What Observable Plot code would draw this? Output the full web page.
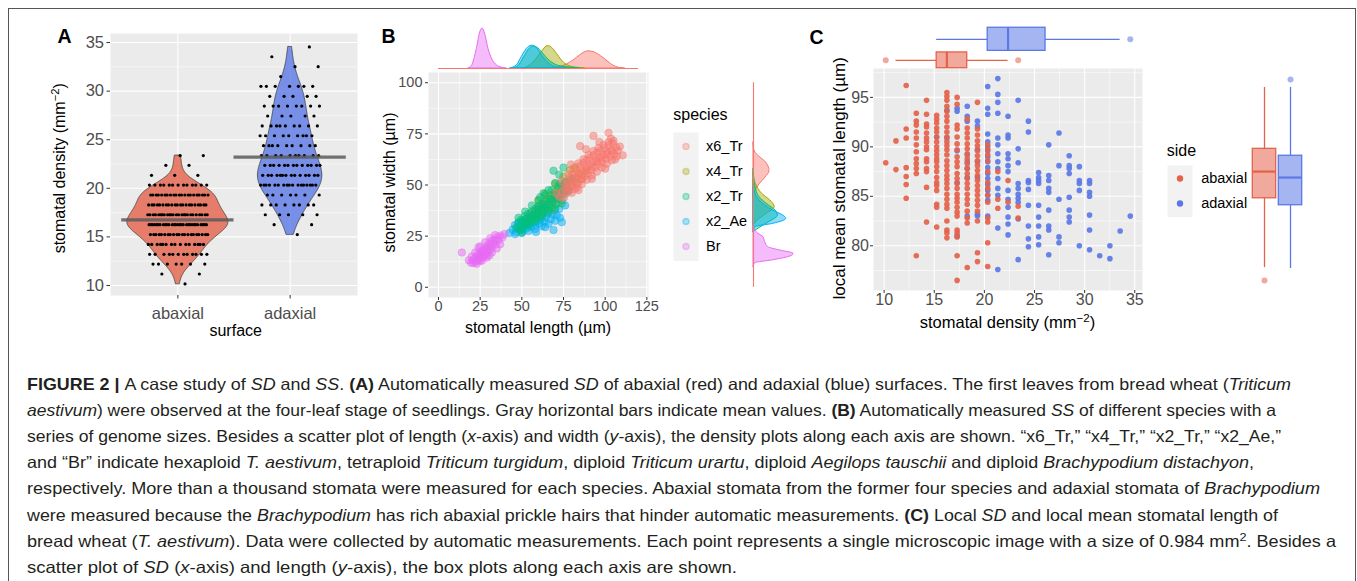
<!DOCTYPE html>
<html>
<head>
<meta charset="utf-8">
<title>Figure 2 – stomatal density and size</title>
<script src="https://cdn.jsdelivr.net/npm/d3@7"></script>
<script src="https://cdn.jsdelivr.net/npm/@observablehq/plot@0.6"></script>
<style>
  html, body { margin: 0; padding: 0; background: #ffffff; }
  #fig { position: relative; width: 1357px; height: 581px; overflow: hidden; background: #ffffff; }
</style>
</head>
<body>
<div id="fig"></div>
<script>
// ======================= DATA =======================
// Panels A and C: stomatal density levels (mm^-2) per microscopic image
const sdLevels = [10.16, 11.18, 12.2, 13.21, 14.23, 15.24, 16.26, 17.28, 18.29, 19.31, 20.33, 21.34, 22.36, 23.37, 24.39, 25.41, 26.42, 27.44, 28.46, 29.47, 30.49, 31.5, 32.52, 33.54, 34.55];
const surfaces = ["abaxial", "adaxial"];
const surfaceColors = ["#E4624A", "#5B78E6"];
const surfaceMeans = [16.75, 23.2];

// local mean stomatal length (µm) of each image, grouped by density level (index into sdLevels)
const abaxialLength = [
  [88.4],
  [90.6, 87.7],
  [96.2, 91.8, 90.9, 87.9, 87.0, 86.2, 84.8],
  [93.4, 92.6, 92.2, 91.5, 90.9, 90.2, 89.5, 88.8, 88.3, 87.8, 87.3, 79.0],
  [94.7, 93.3, 92.3, 92.0, 91.4, 90.9, 90.5, 90.0, 89.7, 88.8, 88.5, 87.8, 87.5, 85.9, 82.4],
  [93.2, 92.8, 92.4, 91.9, 91.5, 91.0, 90.5, 90.0, 89.6, 89.2, 88.8, 88.5, 88.0, 87.5, 86.9, 86.4, 86.1, 85.6, 84.2, 83.9, 81.9],
  [95.5, 95.1, 94.7, 94.1, 93.6, 93.1, 92.6, 92.0, 91.5, 91.0, 90.5, 90.1, 89.7, 89.2, 88.6, 88.1, 87.6, 87.1, 86.7, 86.3, 85.8, 85.2, 84.7, 84.2, 83.8, 82.5, 81.6, 81.3, 80.8],
  [95.0, 94.3, 92.2, 91.8, 91.0, 90.3, 89.7, 89.0, 88.5, 88.0, 87.3, 86.8, 86.3, 85.8, 85.2, 84.8, 84.4, 83.9, 83.4, 83.0, 81.6, 81.3, 80.9, 79.0, 76.5],
  [92.8, 91.9, 91.4, 90.9, 90.3, 89.8, 89.3, 88.8, 88.3, 87.8, 87.3, 86.8, 86.3, 85.8, 85.2, 84.7, 84.2, 83.5, 82.8, 82.3, 77.8],
  [94.5, 91.8, 91.2, 90.6, 90.1, 89.6, 89.1, 88.6, 88.1, 87.6, 87.1, 86.6, 86.1, 85.6, 85.1, 84.6, 84.1, 83.5, 82.5, 79.3, 78.4],
  [90.2, 89.7, 89.2, 88.6, 87.5, 86.4, 85.8, 85.1, 84.4, 82.8, 82.4, 80.3, 77.9],
  [87.5, 84.7, 83.8],
  [86.6, 84.4],
  [84.0, 82.8]
];
const adaxialLength = [
  [], [], [], [], [],
  [91.0],
  [93.7, 90.9],
  [93.9, 93.6, 89.6, 86.4, 81.0],
  [94.1, 93.1, 92.6, 89.2, 88.5, 87.8, 86.9, 83.0],
  [92.6, 92.1, 89.7, 88.5, 86.9, 83.2, 83.0],
  [96.1, 93.9, 93.3, 91.3, 90.5, 90.0, 89.6, 89.0, 88.5, 87.9, 87.3, 86.8, 86.2, 85.6, 85.1, 84.6, 83.0],
  [96.9, 95.3, 94.5, 93.4, 90.9, 90.2, 89.3, 88.5, 87.8, 86.8, 85.8, 85.1, 81.8, 77.6],
  [93.1, 91.2, 90.9, 89.3, 88.8, 88.1, 87.5, 85.6, 84.7, 83.9, 82.9, 82.2, 81.1],
  [94.7, 89.8, 88.4, 86.3, 85.8, 85.2, 84.8, 84.4, 82.7, 78.6],
  [92.6, 91.5, 86.6, 86.4, 85.7, 84.1, 82.0, 80.7, 79.9],
  [87.4, 86.9, 86.6, 86.3, 84.1, 82.9, 82.0, 80.9, 80.1],
  [90.2, 87.1, 86.6, 85.8, 85.4, 83.6, 82.0, 81.6, 79.1],
  [91.4, 88.1, 84.7, 80.9, 80.3],
  [89.1, 88.1, 87.8, 87.3, 84.9, 83.6, 82.9, 82.4],
  [88.0, 86.6, 86.3, 85.6, 80.0],
  [86.6, 86.3, 85.4, 85.0, 83.1, 81.6, 79.6],
  [79.0],
  [80.0, 78.7],
  [81.5],
  [83.0]
];

// Panel C marginal box plots: [lower whisker, Q1, median, Q3, upper whisker]
const boxSD_abaxial = [11.18, 15.24, 16.26, 18.29, 22.36];
const boxSD_adaxial = [15.24, 20.33, 22.36, 26.1, 33.54];
const outSD_abaxial = [10.16, 23.37];
const outSD_adaxial = [34.55];
const boxLen_abaxial = [77.8, 84.8, 87.5, 89.8, 96.0];
const boxLen_adaxial = [77.7, 84.1, 86.9, 89.1, 96.0];
const outLen_abaxial = [76.5];
const outLen_adaxial = [96.8];

// Panel B: species and their colours
const species = ["x6_Tr", "x4_Tr", "x2_Tr", "x2_Ae", "Br"];
const speciesColors = ["#F8766D", "#A3A500", "#00BF7D", "#00B0F6", "#E76BF3"];

// Panel B: stomatal [length, width] (µm)
const pts_x6_Tr = [[72.5,44.0],[74.0,46.8],[75.2,43.6],[75.8,49.0],[76.6,45.9],[77.4,51.2],[78.1,47.3],[78.9,53.4],[79.5,49.6],[80.3,55.1],[80.9,51.3],[81.6,47.9],[82.4,53.8],[83.0,57.2],[83.7,50.6],[84.3,55.4],[85.0,59.3],[85.6,52.7],[86.3,57.0],[87.0,60.8],[87.6,54.3],[88.3,58.6],[89.0,62.2],[89.6,55.7],[90.3,59.9],[91.0,63.4],[91.7,57.2],[92.4,61.0],[93.1,64.6],[93.8,58.6],[94.5,62.4],[95.2,65.9],[95.9,60.1],[96.6,63.5],[97.3,66.8],[98.0,61.3],[98.8,64.7],[99.6,68.0],[100.4,62.6],[101.2,65.9],[102.0,69.2],[102.8,63.8],[103.7,67.1],[104.6,70.3],[105.5,65.2],[106.5,68.4],[107.6,66.9],[108.8,68.8],[102.0,75.5],[103.5,72.6],[93.0,74.0],[85.0,69.0],[88.5,67.5],[96.5,71.0],[79.5,60.0],[110.5,64.5],[74.0,52.0],[71.0,45.8],[100.0,58.0],[92.0,53.0],[84.0,47.5],[106.0,62.5],
  [80.0,46.2],[83.0,48.6],[86.0,50.4],[89.0,52.6],[92.0,54.6],[95.0,56.5],[98.0,58.6],[101.0,60.4],[104.0,62.1],[107.0,64.0],
  [78.0,55.2],[81.0,58.0],[84.0,60.6],[87.0,62.6],[90.0,64.6],[93.0,66.6],[96.0,68.1],[99.0,69.6],[102.0,71.0],[105.0,71.6],
  [77.0,49.0],[80.0,51.2],[83.0,53.1],[86.0,55.0],[89.0,57.4],[92.0,59.1],[95.0,61.4],[98.0,63.1],[101.0,65.0],[104.0,66.6]];
const pts_x4_Tr = [[53.5,33.8],[55.2,36.0],[56.5,33.2],[57.8,37.4],[58.9,34.7],[60.0,39.0],[61.0,36.2],[62.0,40.5],[62.9,37.6],[63.8,42.0],[64.6,39.1],[65.4,43.4],[66.2,40.3],[67.0,44.5],[67.8,41.5],[68.6,45.6],[69.4,42.7],[70.3,46.9],[71.2,44.0],[72.1,48.1],[73.1,45.2],[74.1,49.4],[75.2,46.6],[76.3,50.8],[77.5,48.0],[78.8,52.2],[80.1,49.5],[81.5,53.7],[83.0,51.1],[84.6,55.3],[86.2,52.9],[88.0,56.6],[64.0,45.8],[70.0,50.6],[75.0,54.1],[79.0,57.2],[68.0,38.2],[72.0,41.2],[60.0,42.6],[82.0,58.6]];
const pts_x2_Tr = [[46.5,29.0],[47.8,31.5],[48.6,28.2],[49.5,33.0],[50.3,29.7],[51.0,32.2],[51.8,34.8],[52.5,30.6],[53.2,33.4],[54.0,36.0],[54.6,31.6],[55.3,34.4],[56.0,37.2],[56.7,32.7],[57.4,35.5],[58.1,38.4],[58.8,33.9],[59.5,36.7],[60.2,39.5],[60.9,35.0],[61.6,37.9],[62.3,40.7],[63.0,36.3],[63.8,39.1],[64.6,42.0],[65.4,37.6],[66.2,40.5],[67.0,43.3],[67.9,39.0],[68.8,41.9],[69.7,44.8],[70.7,40.6],[71.7,43.5],[72.8,46.4],[74.0,42.5],[75.2,45.6],[76.5,48.8],[78.0,47.0],[66.0,47.5],[70.0,51.0],[72.5,55.0],[69.0,57.0],[75.0,58.5],[63.0,46.0],[50.0,26.8],[80.0,53.0],[61.0,44.0],[73.0,50.5],
  [50.0,28.5],[54.0,30.0],[58.0,32.0],[62.0,34.0],[66.0,36.5],[70.0,38.5],[74.0,41.0],
  [48.0,34.0],[52.0,37.0],[56.0,40.0],[60.0,42.5],[64.0,45.0],[68.0,47.5],[72.0,49.5],[76.0,51.5],
  [52.0,32.0],[56.0,35.0],[60.0,38.0],[64.0,40.5],[68.0,43.0],[72.0,45.5]];
const pts_x2_Ae = [[44.5,28.2],[45.8,30.4],[46.6,27.0],[47.3,29.5],[48.1,31.6],[48.8,28.3],[49.5,30.2],[50.2,32.4],[50.8,27.8],[51.4,29.8],[52.0,31.4],[52.6,33.5],[53.2,28.8],[53.8,30.7],[54.4,32.5],[55.0,34.4],[55.6,29.6],[56.2,31.6],[56.8,33.3],[57.4,35.3],[58.0,30.3],[58.6,32.4],[59.2,34.1],[59.9,36.1],[60.6,31.1],[61.3,33.2],[62.0,35.0],[62.8,37.0],[63.6,32.0],[64.5,34.3],[65.4,36.0],[66.4,38.0],[67.4,33.3],[68.5,35.6],[69.7,37.4],[71.0,35.2],[72.5,38.3],[74.0,31.8],[69.0,28.0],[58.5,27.0],[64.0,29.4],[76.0,40.0],[60.0,40.0],[42.5,26.5],
  [46.0,26.0],[50.0,26.5],[54.0,27.5],[58.0,28.5],[62.0,29.8],[66.0,31.0],[70.0,32.5],[73.0,34.0]];
const pts_Br = [[19.5,12.0],[20.5,13.2],[21.0,11.8],[21.8,14.1],[22.3,12.6],[22.9,15.0],[23.4,13.4],[23.8,16.2],[24.2,14.3],[24.6,12.9],[24.9,15.6],[25.3,17.3],[25.6,14.1],[25.9,16.4],[26.2,15.2],[26.5,18.1],[26.8,16.9],[27.1,14.8],[27.4,17.6],[27.7,15.9],[28.0,19.0],[28.3,16.7],[28.6,18.3],[28.9,15.6],[29.2,20.1],[29.6,17.4],[30.0,19.2],[30.4,21.3],[30.8,18.1],[31.3,20.4],[31.8,22.6],[32.2,19.5],[32.8,21.5],[33.4,23.4],[34.0,20.9],[34.7,22.8],[35.5,24.6],[36.3,23.1],[37.2,25.3],[38.4,24.4],[14.0,17.0],[18.2,13.2],[39.5,26.0],[24.0,19.5],[30.5,15.5],
  [20.0,15.0],[22.0,17.0],[25.0,20.0],[28.0,22.0],[31.0,24.0],[34.0,25.5],[23.0,11.5],[26.0,13.0],[29.0,14.5],[32.0,17.0],[35.0,19.0],[37.0,21.0]];

// Panel B marginal densities: [value, relative density]
const lenDens_x6_Tr = [[65,0],[72,0.03],[77,0.1],[81,0.2],[85,0.33],[88,0.41],[90,0.43],[93,0.41],[96,0.35],[99,0.26],[102,0.16],[105,0.07],[108,0.02],[112,0]];
const lenDens_x4_Tr = [[50,0],[54,0.05],[57,0.15],[60,0.3],[63,0.47],[65.5,0.56],[68,0.52],[71,0.37],[74,0.2],[77,0.09],[80,0.04],[83,0.02],[88,0]];
const lenDens_x2_Tr = [[45,0],[48,0.06],[51,0.25],[54,0.46],[57,0.55],[60,0.5],[63,0.36],[66,0.22],[70,0.1],[75,0.04],[80,0.02],[85,0]];
const lenDens_x2_Ae = [[43,0],[47,0.08],[50,0.29],[53,0.49],[56,0.57],[59,0.51],[62,0.33],[65,0.18],[69,0.05],[73,0.01],[76,0]];
const lenDens_Br = [[18,0],[20,0.06],[23,0.49],[25,0.9],[26.5,1],[28,0.86],[30,0.49],[32,0.25],[35,0.08],[38,0.02],[41,0]];
const widDens_x6_Tr = [[44,0],[47.1,0.05],[50.3,0.15],[53.6,0.3],[56.8,0.4],[60.9,0.32],[63.3,0.18],[65.8,0.05],[68,0.01],[71,0]];
const widDens_x4_Tr = [[30,0],[32.6,0.1],[35.9,0.33],[39.2,0.53],[42.4,0.42],[45.6,0.22],[48.9,0.1],[52.1,0.03],[56,0]];
const widDens_x2_Tr = [[27,0],[30.2,0.25],[32.5,0.45],[35,0.61],[37.5,0.55],[40.8,0.33],[44,0.15],[49,0.05],[53,0.02],[58,0]];
const widDens_x2_Ae = [[27,0],[29.4,0.05],[31,0.49],[33.5,0.82],[35.1,0.74],[37.5,0.49],[40,0.29],[42.4,0.15],[45.6,0.05],[49,0]];
const widDens_Br = [[10,0],[11.8,0.05],[13.2,0.49],[15.6,0.98],[16.4,1],[18,0.66],[19.6,0.37],[22.1,0.29],[24.5,0.25],[26.2,0.12],[27.8,0.04],[30,0]];
const lengthRange = [0, 120];
const widthRange = [0, 100];

// Tick values
const aTicksY = [10, 15, 20, 25, 30, 35];
const aMinorY = [12.5, 17.5, 22.5, 27.5, 32.5];
const bTicksX = [0, 25, 50, 75, 100, 125];
const bMinorX = [12.5, 37.5, 62.5, 87.5, 112.5];
const bTicksY = [0, 25, 50, 75, 100];
const bMinorY = [12.5, 37.5, 62.5, 87.5];
const cTicksX = [10, 15, 20, 25, 30, 35];
const cMinorX = [12.5, 17.5, 22.5, 27.5, 32.5];
const cTicksY = [80, 85, 90, 95];
const cMinorY = [77.5, 82.5, 87.5, 92.5, 97.5];

// Caption
const captionLines = [
  [["FIGURE 2 | ", "b"], ["A case study of ", ""], ["SD", "i"], [" and ", ""], ["SS", "i"], [". ", ""], ["(A)", "b"], [" Automatically measured ", ""], ["SD", "i"], [" of abaxial (red) and adaxial (blue) surfaces. The first leaves from bread wheat (", ""], ["Triticum", "i"]],
  [["aestivum", "i"], [") were observed at the four-leaf stage of seedlings. Gray horizontal bars indicate mean values. ", ""], ["(B)", "b"], [" Automatically measured ", ""], ["SS", "i"], [" of different species with a", ""]],
  [["series of genome sizes. Besides a scatter plot of length (", ""], ["x", "i"], ["-axis) and width (", ""], ["y", "i"], ["-axis), the density plots along each axis are shown. \u201cx6_Tr,\u201d \u201cx4_Tr,\u201d \u201cx2_Tr,\u201d \u201cx2_Ae,\u201d", ""]],
  [["and \u201cBr\u201d indicate hexaploid ", ""], ["T. aestivum", "i"], [", tetraploid ", ""], ["Triticum turgidum", "i"], [", diploid ", ""], ["Triticum urartu", "i"], [", diploid ", ""], ["Aegilops tauschii", "i"], [" and diploid ", ""], ["Brachypodium distachyon", "i"], [",", ""]],
  [["respectively. More than a thousand stomata were measured for each species. Abaxial stomata from the former four species and adaxial stomata of ", ""], ["Brachypodium", "i"]],
  [["were measured because the ", ""], ["Brachypodium", "i"], [" has rich abaxial prickle hairs that hinder automatic measurements. ", ""], ["(C)", "b"], [" Local ", ""], ["SD", "i"], [" and local mean stomatal length of", ""]],
  [["bread wheat (", ""], ["T. aestivum", "i"], ["). Data were collected by automatic measurements. Each point represents a single microscopic image with a size of 0.984 mm", ""], ["2", "sup"], [". Besides a", ""]],
  [["scatter plot of ", ""], ["SD", "i"], [" (", ""], ["x", "i"], ["-axis) and length (", ""], ["y", "i"], ["-axis), the box plots along each axis are shown.", ""]]
];
const captionWidths = [1264, 1249, 1254, 1227, 1293, 1251, 1309, 710];

// ======================= HELPERS =======================
const FONT = "'Liberation Sans', Arial, Helvetica, sans-serif";
const CAPTION_FONT = "'Liberation Sans Narrow', 'Arial Narrow', 'Liberation Sans', Arial, sans-serif";
const fig = document.getElementById("fig");
function put(node, left, top) {
  node.style.position = "absolute";
  node.style.left = left + "px";
  node.style.top = top + "px";
  fig.appendChild(node);
  return node;
}
const svgStyle = {background: "transparent", overflow: "visible", fontFamily: FONT, maxWidth: "none"};
const GRID_MAJOR = {stroke: "#FFFFFF", strokeOpacity: 1, strokeWidth: 1.1};
const GRID_MINOR = {stroke: "#FFFFFF", strokeOpacity: 1, strokeWidth: 0.55};
const AXIS = {fill: "#4D4D4D", stroke: "#333333", strokeWidth: 1, label: null};
const surfaceColor = {domain: surfaces, range: surfaceColors};
const speciesColor = {domain: species, range: speciesColors};

// ======================= PANEL A =======================
const sdBySurface = [abaxialLength, adaxialLength].map(table => {
  const v = [];
  table.forEach((arr, k) => arr.forEach(() => v.push(sdLevels[k])));
  return v;
});
const aPoints = [];
surfaces.forEach((s, g) => sdBySurface[g].forEach((sd, j) => aPoints.push({surface: s, pos: g + 1, sd, j})));
function jitter(j) { return (((j + 1) * 0.6180339887) % 1 - 0.5) * 0.54; }

function bwNrd0(v) {
  const s = [...v].sort(d3.ascending);
  const iqr = d3.quantileSorted(s, 0.75) - d3.quantileSorted(s, 0.25);
  return 0.9 * Math.min(d3.deviation(s), iqr / 1.34) * Math.pow(s.length, -0.2);
}
const dens = sdBySurface.map(v => {
  const bw = bwNrd0(v);
  const [lo, hi] = d3.extent(v);
  const n = 200;
  return d3.range(n + 1).map(i => {
    const y = lo + (hi - lo) * i / n;
    let t = 0;
    for (const x of v) { const u = (y - x) / bw; t += Math.exp(-0.5 * u * u); }
    return {y, d: t / (v.length * bw * Math.sqrt(2 * Math.PI))};
  });
});
const dMax = d3.max(dens.flat(), d => d.d);
const vRows = [];
surfaces.forEach((s, g) => dens[g].forEach(p => vRows.push({surface: s, pos: g + 1, y: p.y, w: p.d / dMax * 0.45})));
const meanRows = surfaces.map((s, g) => ({surface: s, pos: g + 1, mean: surfaceMeans[g]}));

put(Plot.plot({
  width: 320, height: 310, marginLeft: 70, marginRight: 3, marginTop: 13, marginBottom: 35,
  style: svgStyle,
  x: {type: "linear", domain: [0.4, 2.6]},
  y: {domain: [8.97, 35.93]},
  color: surfaceColor,
  marks: [
    Plot.frame({fill: "#EBEBEB", stroke: "none"}),
    Plot.gridY(aMinorY, GRID_MINOR),
    Plot.gridY(aTicksY, GRID_MAJOR),
    Plot.gridX([1, 2], GRID_MAJOR),
    Plot.areaX(vRows, {y: "y", x1: d => d.pos - d.w, x2: d => d.pos + d.w, z: "surface", fill: "surface", fillOpacity: 0.8, stroke: "#333333", strokeWidth: 0.7}),
    Plot.dot(aPoints, {x: d => d.pos + jitter(d.j), y: "sd", r: 1.6, fill: "#000000"}),
    Plot.ruleY(meanRows, {y: "mean", x1: d => d.pos - 0.5, x2: d => d.pos + 0.5, stroke: "#5A5A5A", strokeOpacity: 0.85, strokeWidth: 3.3}),
    Plot.axisX([1, 2], {...AXIS, tickFormat: d => surfaces[d - 1], tickSize: 3.5, tickPadding: 8, fontSize: 16.5}),
    Plot.axisY(aTicksY, {...AXIS, tickSize: 3.5, tickPadding: 3, fontSize: 16.5})
  ]
}), 40, 20);

// ======================= PANEL B =======================
const ptsBySpecies = {x6_Tr: pts_x6_Tr, x4_Tr: pts_x4_Tr, x2_Tr: pts_x2_Tr, x2_Ae: pts_x2_Ae, Br: pts_Br};
const bDrawOrder = ["x2_Ae", "x4_Tr", "x2_Tr", "x6_Tr", "Br"];
const bRows = [];
bDrawOrder.forEach(s => ptsBySpecies[s].forEach(([L, W]) => bRows.push({species: s, L, W})));

put(Plot.plot({
  width: 263, height: 262, marginLeft: 38, marginRight: 5, marginTop: 12, marginBottom: 25,
  style: svgStyle,
  x: {domain: [-6, 126]},
  y: {domain: [-5, 105]},
  color: speciesColor,
  marks: [
    Plot.frame({fill: "#EBEBEB", stroke: "none"}),
    Plot.gridX(bMinorX, GRID_MINOR),
    Plot.gridY(bMinorY, GRID_MINOR),
    Plot.gridX(bTicksX, GRID_MAJOR),
    Plot.gridY(bTicksY, GRID_MAJOR),
    Plot.dot(bRows, {x: "L", y: "W", r: 3.8, fill: "species", fillOpacity: 0.5, stroke: "species", strokeOpacity: 0.5, strokeWidth: 0.7}),
    Plot.axisX(bTicksX, {...AXIS, tickSize: 3, tickPadding: 0.5, fontSize: 14.5}),
    Plot.axisY(bTicksY, {...AXIS, tickSize: 3, tickPadding: 3, fontSize: 14.5})
  ]
}), 390, 60);

const lenDensBy = {x6_Tr: lenDens_x6_Tr, x4_Tr: lenDens_x4_Tr, x2_Tr: lenDens_x2_Tr, x2_Ae: lenDens_x2_Ae, Br: lenDens_Br};
const widDensBy = {x6_Tr: widDens_x6_Tr, x4_Tr: widDens_x4_Tr, x2_Tr: widDens_x2_Tr, x2_Ae: widDens_x2_Ae, Br: widDens_Br};
const lenRows = [], widRows = [];
species.forEach(s => {
  lenDensBy[s].forEach(([v, d]) => lenRows.push({species: s, v, d}));
  widDensBy[s].forEach(([v, d]) => widRows.push({species: s, v, d}));
});

// top marginal density (length)
put(Plot.plot({
  width: 220, height: 50, marginLeft: 0, marginRight: 0, marginTop: 8, marginBottom: 2,
  style: svgStyle,
  x: {domain: [-6, 126], axis: null},
  y: {domain: [0, 1], axis: null},
  color: speciesColor,
  marks: [
    Plot.areaY(lenRows, {x: "v", y1: 0, y2: "d", z: "species", fill: "species", fillOpacity: 0.45, stroke: "species", strokeWidth: 1, curve: "monotone-x"}),
    Plot.ruleY([0], {x1: lengthRange[0], x2: lengthRange[1], stroke: speciesColors[0], strokeWidth: 1.1})
  ]
}), 428, 20);

// right marginal density (width)
put(Plot.plot({
  width: 50, height: 225, marginLeft: 3, marginRight: 7, marginTop: 0, marginBottom: 0,
  style: svgStyle,
  x: {domain: [0, 1], axis: null},
  y: {domain: [-5, 105], axis: null},
  color: speciesColor,
  marks: [
    Plot.areaX(widRows, {y: "v", x1: 0, x2: "d", z: "species", fill: "species", fillOpacity: 0.45, stroke: "species", strokeWidth: 1, curve: "monotone-y"}),
    Plot.ruleX([0], {y1: widthRange[0], y2: widthRange[1], stroke: speciesColors[0], strokeWidth: 1.1})
  ]
}), 750, 72);

// species legend keys
put(Plot.plot({
  width: 95, height: 128.5, marginLeft: 0, marginRight: 70, marginTop: 0, marginBottom: 0,
  style: svgStyle,
  x: {domain: [0, 1], axis: null},
  y: {type: "point", domain: species, padding: 0.5, axis: null},
  color: speciesColor,
  marks: [
    Plot.frame({fill: "#F2F2F2", stroke: "none"}),
    Plot.dot(species, {x: () => 0.5, y: d => d, r: 3, fill: d => d, fillOpacity: 0.3, stroke: d => d, strokeOpacity: 0.35}),
    Plot.text(species, {x: () => 1, y: d => d, text: d => d, dx: 7.5, textAnchor: "start", fontSize: 14.5, fill: "#000000"})
  ]
}), 673, 132);

// ======================= PANEL C =======================
const cRows = [];
[["adaxial", adaxialLength], ["abaxial", abaxialLength]].forEach(([s, table]) =>
  table.forEach((arr, k) => arr.forEach(len => cRows.push({side: s, sd: sdLevels[k], len}))));

put(Plot.plot({
  width: 327, height: 252, marginLeft: 53, marginRight: 5, marginTop: 8, marginBottom: 22,
  style: svgStyle,
  x: {domain: [8.94, 35.77]},
  y: {domain: [75.48, 97.92]},
  color: surfaceColor,
  marks: [
    Plot.frame({fill: "#EBEBEB", stroke: "none"}),
    Plot.gridX(cMinorX, GRID_MINOR),
    Plot.gridY(cMinorY, GRID_MINOR),
    Plot.gridX(cTicksX, GRID_MAJOR),
    Plot.gridY(cTicksY, GRID_MAJOR),
    Plot.dot(cRows, {x: "sd", y: "len", r: 2.8, fill: "side", fillOpacity: 0.92}),
    Plot.axisX(cTicksX, {...AXIS, tickSize: 3, tickPadding: 0.6, fontSize: 16}),
    Plot.axisY(cTicksY, {...AXIS, tickSize: 3, tickPadding: 1.5, fontSize: 16})
  ]
}), 820, 60);

// top marginal box plots (density)
const boxX = [
  {side: "abaxial", k: 0, h: 0.375, s: boxSD_abaxial},
  {side: "adaxial", k: 1, h: 0.55, s: boxSD_adaxial}
];
const outX = [...outSD_abaxial.map(v => ({side: "abaxial", k: 0, v})), ...outSD_adaxial.map(v => ({side: "adaxial", k: 1, v}))];
put(Plot.plot({
  width: 269, height: 52, margin: 0,
  style: svgStyle,
  x: {domain: [8.94, 35.77], axis: null},
  y: {domain: [-0.5, 1.5], range: [50.3, 8.3], axis: null},
  color: surfaceColor,
  marks: [
    Plot.ruleY(boxX, {y: "k", x1: d => d.s[0], x2: d => d.s[1], stroke: "side", strokeWidth: 1.3}),
    Plot.ruleY(boxX, {y: "k", x1: d => d.s[3], x2: d => d.s[4], stroke: "side", strokeWidth: 1.3}),
    Plot.rect(boxX, {x1: d => d.s[1], x2: d => d.s[3], y1: d => d.k - d.h, y2: d => d.k + d.h, fill: "side", fillOpacity: 0.55, stroke: "side", strokeWidth: 1.3}),
    Plot.ruleX(boxX, {x: d => d.s[2], y1: d => d.k - d.h, y2: d => d.k + d.h, stroke: "side", strokeWidth: 2.2}),
    Plot.dot(outX, {x: "v", y: "k", r: 3, fill: "side", fillOpacity: 0.55})
  ]
}), 873, 20);

// right marginal box plots (length)
const boxY = [
  {side: "abaxial", k: 0, h: 0.45, s: boxLen_abaxial},
  {side: "adaxial", k: 1, h: 0.45, s: boxLen_adaxial}
];
const outY = [...outLen_abaxial.map(v => ({side: "abaxial", k: 0, v})), ...outLen_adaxial.map(v => ({side: "adaxial", k: 1, v}))];
put(Plot.plot({
  width: 70, height: 222, margin: 0,
  style: svgStyle,
  x: {domain: [-0.5, 1.5], range: [11, 63], axis: null},
  y: {domain: [75.48, 97.92], axis: null},
  color: surfaceColor,
  marks: [
    Plot.ruleX(boxY, {x: "k", y1: d => d.s[0], y2: d => d.s[1], stroke: "side", strokeWidth: 1.3}),
    Plot.ruleX(boxY, {x: "k", y1: d => d.s[3], y2: d => d.s[4], stroke: "side", strokeWidth: 1.3}),
    Plot.rect(boxY, {y1: d => d.s[1], y2: d => d.s[3], x1: d => d.k - d.h, x2: d => d.k + d.h, fill: "side", fillOpacity: 0.55, stroke: "side", strokeWidth: 1.3}),
    Plot.ruleY(boxY, {y: d => d.s[2], x1: d => d.k - d.h, x2: d => d.k + d.h, stroke: "side", strokeWidth: 2.2}),
    Plot.dot(outY, {x: "k", y: "v", r: 3, fill: "side", fillOpacity: 0.55})
  ]
}), 1240, 68);

// side legend keys
put(Plot.plot({
  width: 80, height: 51.6, marginLeft: 0, marginRight: 55, marginTop: 0, marginBottom: 0,
  style: svgStyle,
  x: {domain: [0, 1], axis: null},
  y: {type: "point", domain: surfaces, padding: 0.5, axis: null},
  color: surfaceColor,
  marks: [
    Plot.frame({fill: "#F2F2F2", stroke: "none"}),
    Plot.dot(surfaces, {x: () => 0.5, y: d => d, r: 3.2, fill: d => d}),
    Plot.text(surfaces, {x: () => 1, y: d => d, text: d => d, dx: 8.7, textAnchor: "start", fontSize: 14.5, fill: "#000000"})
  ]
}), 1167, 165);

// ======================= TEXT OVERLAY =======================
const ov = d3.create("svg")
  .attr("width", 1357).attr("height", 581).attr("viewBox", "0 0 1357 581")
  .style("position", "absolute").style("left", "0px").style("top", "0px")
  .style("font-family", FONT).style("pointer-events", "none");
ov.append("rect").attr("x", 8.5).attr("y", 8.5).attr("width", 1347).attr("height", 640)
  .attr("fill", "none").attr("stroke", "#555555").attr("stroke-width", 1);

function txt(x, y, parts, {size = 16, weight = "normal", anchor = "start", rotate = 0, fill = "#000000", family = null} = {}) {
  const t = ov.append("text")
    .attr("transform", `translate(${x},${y}) rotate(${rotate})`)
    .attr("text-anchor", anchor).attr("font-size", size).attr("font-weight", weight)
    .attr("fill", fill).style("white-space", "pre");
  if (family) t.style("font-family", family);
  (typeof parts === "string" ? [[parts, ""]] : parts).forEach(([s, st]) => {
    const sp = t.append("tspan").text(s);
    if (st === "i") sp.attr("font-style", "italic");
    if (st === "b") sp.attr("font-weight", "bold");
    if (st === "sup") sp.attr("baseline-shift", "super").attr("font-size", "0.7em");
  });
  return t;
}

// panel letters
txt(57.5, 43, "A", {size: 19.5, weight: "bold"});
txt(381.5, 43, "B", {size: 19.5, weight: "bold"});
txt(809.5, 44, "C", {size: 19.5, weight: "bold"});

// axis titles
txt(65, 168.3, [["stomatal density (mm", ""], ["\u22122", "sup"], [")", ""]], {anchor: "middle", rotate: -90, size: 16});
txt(235.7, 336, "surface", {anchor: "middle", size: 16});
txt(395, 182.5, "stomatal width (\u00b5m)", {anchor: "middle", rotate: -90, size: 16});
txt(538, 333, "stomatal length (\u00b5m)", {anchor: "middle", size: 16});
txt(845, 178.3, "local mean stomatal length (\u00b5m)", {anchor: "middle", rotate: -90, size: 17});
txt(1007.5, 328, [["stomatal density (mm", ""], ["\u22122", "sup"], [")", ""]], {anchor: "middle", size: 16.5});

// legend titles
txt(673.3, 120, "species", {size: 16});
txt(1166.7, 155.5, "side", {size: 16});

// caption
captionLines.forEach((parts, i) => {
  txt(27, 390 + i * 26.1, parts, {size: 16.5, fill: "#231F20", family: CAPTION_FONT})
    .attr("textLength", captionWidths[i]).attr("lengthAdjust", "spacingAndGlyphs");
});

fig.appendChild(ov.node());
</script>
</body>
</html>
